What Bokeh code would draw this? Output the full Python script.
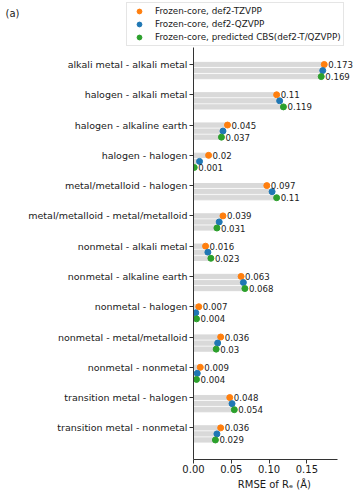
from bokeh.plotting import figure
from bokeh.models import Range1d, FixedTicker, Legend, LegendItem, Label, ColumnDataSource, LabelSet
from bokeh.core.properties import value
from bokeh.layouts import column
from bokeh.embed import file_html
from bokeh.resources import INLINE

categories = [
    "alkali metal - alkali metal",
    "halogen - alkali metal",
    "halogen - alkaline earth",
    "halogen - halogen",
    "metal/metalloid - halogen",
    "metal/metalloid - metal/metalloid",
    "nonmetal - alkali metal",
    "nonmetal - alkaline earth",
    "nonmetal - halogen",
    "nonmetal - metal/metalloid",
    "nonmetal - nonmetal",
    "transition metal - halogen",
    "transition metal - nonmetal",
]
tzvpp = [0.173, 0.11, 0.045, 0.02, 0.097, 0.039, 0.016, 0.063, 0.007, 0.036, 0.009, 0.048, 0.036]
qzvpp = [0.171, 0.114, 0.039, 0.008, 0.104, 0.034, 0.019, 0.066, 0.003, 0.032, 0.005, 0.051, 0.031]
cbs = [0.169, 0.119, 0.037, 0.001, 0.11, 0.031, 0.023, 0.068, 0.004, 0.03, 0.004, 0.054, 0.029]
series_names = ["Frozen-core, def2-TZVPP", "Frozen-core, def2-QZVPP",
                "Frozen-core, predicted CBS(def2-T/QZVPP)"]
series_colors = ["#ff7f0e", "#1f77b4", "#2ca02c"]
series_offsets = [0.0, 0.2, 0.4]
x_ticks = [0.0, 0.05, 0.10, 0.15]

FONT = "DejaVu Sans"
TXT = "#1a1a1a"
NAN = float("nan")

# ---- top strip: panel tag and legend ----
top = figure(width=358, height=47, output_backend="svg", toolbar_location=None,
             x_range=Range1d(0, 358), y_range=Range1d(47, 0),
             min_border_left=0, min_border_right=0, min_border_top=0, min_border_bottom=0)
top.frame_align = False
top.axis.visible = False
top.grid.visible = False
top.outline_line_color = None

legend_items = []
for name, col in zip(series_names, series_colors):
    # legend proxy (not drawn in the frame: NaN position)
    r = top.scatter(x=[NAN], y=[NAN], size=6, color=col)
    legend_items.append(LegendItem(label=name, renderers=[r]))

legend = Legend(items=legend_items, location=(126, 1), orientation="vertical",
                label_text_font_size="8.8px", label_text_font=FONT, label_text_color=TXT,
                glyph_width=20, glyph_height=12, label_height=12, label_standoff=6,
                spacing=1, padding=2, margin=0,
                border_line_color="#cccccc", border_line_width=1,
                background_fill_color="white", background_fill_alpha=0.85)
top.add_layout(legend, "center")
top.add_layout(Label(x=5, y=34, x_units="screen", y_units="screen", text="(a)",
                     text_font_size="10px", text_font=FONT, text_baseline="middle",
                     text_color=TXT))

# ---- main chart ----
p = figure(width=358, height=447, output_backend="svg", toolbar_location=None,
           x_range=Range1d(0, 0.2183), y_range=Range1d(13.045, -0.561),
           min_border_left=193, min_border_right=0, min_border_top=0, min_border_bottom=35)
p.frame_align = False
p.outline_line_color = None
p.xgrid.visible = False
p.ygrid.visible = False

pos = list(range(len(categories)))
for vals, name, col, off in zip([tzvpp, qzvpp, cbs], series_names, series_colors, series_offsets):
    ys = [i + off for i in pos]
    src = ColumnDataSource(dict(y=ys, v=vals, lab=[str(v) for v in vals]))
    p.hbar(y="y", left=0, right="v", height=0.14, color="#d9d9d9", source=src)
    p.scatter(x="v", y="y", size=6, color=col, source=src)
    if name != series_names[1]:
        p.add_layout(LabelSet(x="v", y="y", text="lab", source=src, x_offset=4,
                              text_baseline="middle", text_align="left",
                              text_font_size=value("8.6px"),
                              text_font=value(FONT), text_color=value(TXT)))

# y axis
p.yaxis.ticker = FixedTicker(ticks=pos)
p.yaxis.major_label_overrides = {i: c for i, c in zip(pos, categories)}
p.yaxis.minor_tick_line_color = None
p.yaxis.major_tick_in = 0
p.yaxis.major_tick_out = 4
p.yaxis.major_label_standoff = 2
p.yaxis.major_label_text_font_size = "9.5px"
p.yaxis.major_label_text_font = FONT
p.yaxis.major_label_text_color = TXT
p.yaxis.axis_line_color = "#333333"
p.yaxis.major_tick_line_color = "#333333"

# x axis
p.xaxis.ticker = FixedTicker(ticks=x_ticks)
p.xaxis.bounds = (0, 0.19)
p.xaxis.major_label_overrides = {t: "%.2f" % t for t in x_ticks}
p.xaxis.minor_tick_line_color = None
p.xaxis.major_tick_in = 0
p.xaxis.major_tick_out = 4
p.xaxis.major_label_standoff = 1
p.xaxis.major_label_text_font_size = "10px"
p.xaxis.major_label_text_font = FONT
p.xaxis.major_label_text_color = TXT
p.xaxis.axis_line_color = "#333333"
p.xaxis.major_tick_line_color = "#333333"
p.xaxis.axis_label = "RMSE of  R\u2091 (\u00c5)"
p.xaxis.axis_label_text_font_size = "10px"
p.xaxis.axis_label_text_font = FONT
p.xaxis.axis_label_text_font_style = "normal"
p.xaxis.axis_label_text_color = TXT
p.xaxis.axis_label_standoff = 3

layout = column(top, p, spacing=0)
open("out.html", "w").write(file_html(layout, INLINE))
